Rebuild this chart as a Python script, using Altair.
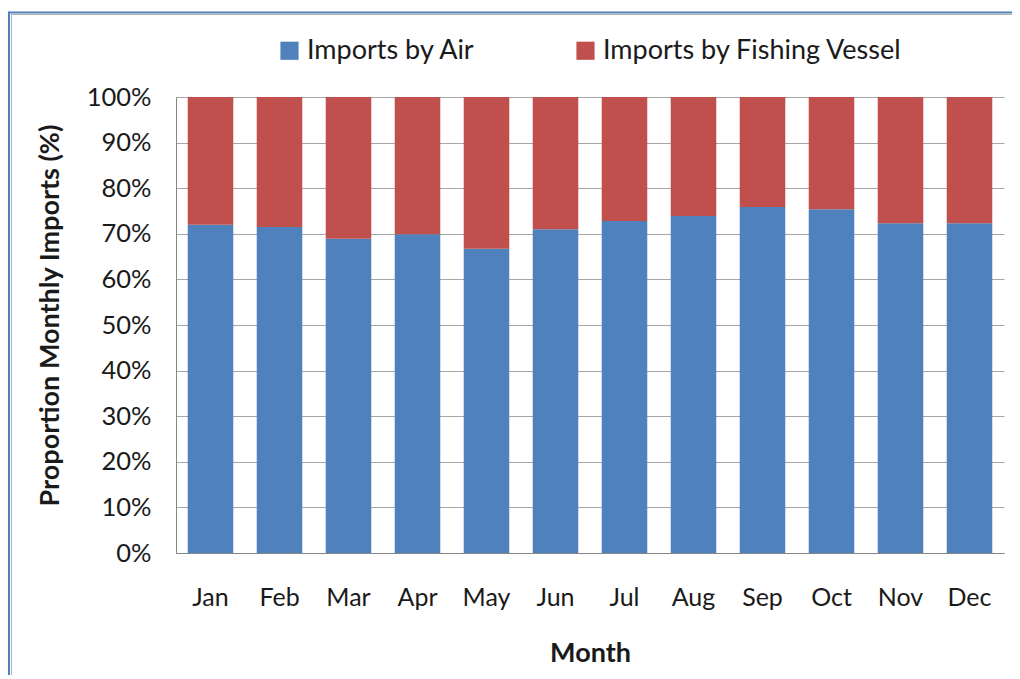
import altair as alt
import pandas as pd

months = ["Jan", "Feb", "Mar", "Apr", "May", "Jun", "Jul", "Aug", "Sep", "Oct", "Nov", "Dec"]
series = ["Imports by Air", "Imports by Fishing Vessel"]
air = [72.0, 71.5, 68.9, 69.9, 66.7, 71.0, 72.8, 73.9, 75.9, 75.4, 72.3, 72.3]
vessel = [28.0, 28.5, 31.1, 30.1, 33.3, 29.0, 27.2, 26.1, 24.1, 24.6, 27.7, 27.7]
colors = ["#4F81BD", "#C0504D"]
y_ticks = [0, 10, 20, 30, 40, 50, 60, 70, 80, 90, 100]

rows = []
for m, a, v in zip(months, air, vessel):
    rows.append({"Month": m, "Series": series[0], "Value": a, "Order": 0})
    rows.append({"Month": m, "Series": series[1], "Value": v, "Order": 1})
df = pd.DataFrame(rows)

FONT = "Lato"
TXT = "#1a1a1a"

bars = alt.Chart(df).mark_bar().encode(
    x=alt.X("Month:N", sort=months,
            scale=alt.Scale(paddingInner=0.34, paddingOuter=0.17),
            axis=alt.Axis(title="Month", labelAngle=0, ticks=False, grid=False,
                          domainColor="#868686", labelFontSize=25, labelFont=FONT,
                          labelColor=TXT, labelPadding=32, titleFont=FONT,
                          titleFontSize=27, titleFontWeight="bold", titleColor=TXT,
                          titlePadding=30)),
    y=alt.Y("Value:Q", stack=True,
            scale=alt.Scale(domain=[0, 100], nice=False),
            axis=alt.Axis(title="Proportion Monthly Imports (%)", values=y_ticks,
                          labelExpr="datum.value + '%'", ticks=False,
                          domainColor="#868686", gridColor="#a6a6a6",
                          labelFontSize=25.5, labelFont=FONT, labelColor=TXT,
                          labelPadding=25, titleFont=FONT, titleFontSize=27,
                          titleFontWeight="bold", titleColor=TXT, titlePadding=22,
                          titleY=218)),
    color=alt.Color("Series:N", sort=series,
                    scale=alt.Scale(domain=series, range=colors),
                    legend=alt.Legend(title=None, orient="none", direction="horizontal",
                                      legendX=100, legendY=-60, symbolType="square",
                                      symbolSize=330, symbolStrokeWidth=0,
                                      labelFontSize=27, labelFont=FONT, labelColor=TXT,
                                      labelLimit=0, labelOffset=4, columnPadding=96,
                                      padding=0)),
    order=alt.Order("Order:Q", sort="ascending"),
)

frame_data = alt.Data(values=[{"k": 0}])
top_blue = alt.Chart(frame_data).mark_rule(color="#4F81BD", strokeWidth=2).encode(
    x=alt.value(-167), x2=alt.value(840), y=alt.value(-84.5))
top_gray = alt.Chart(frame_data).mark_rule(color="#b0b0b0", strokeWidth=1).encode(
    x=alt.value(-165), x2=alt.value(840), y=alt.value(-82.5))
left_blue = alt.Chart(frame_data).mark_rule(color="#4F81BD", strokeWidth=2).encode(
    x=alt.value(-167), y=alt.value(-85.5), y2=alt.value(620))
left_gray = alt.Chart(frame_data).mark_rule(color="#b0b0b0", strokeWidth=1).encode(
    x=alt.value(-164.5), y=alt.value(-83), y2=alt.value(620))

chart = alt.layer(bars, top_blue, top_gray, left_blue, left_gray).properties(
    width=828, height=456,
    autosize=alt.AutoSizeParams(type="none"),
    padding={"left": 168, "top": 89, "right": 8, "bottom": 122},
    background="white",
).configure_view(stroke=None)

chart.save("out.html", embed_options={"renderer": "svg", "actions": False})
